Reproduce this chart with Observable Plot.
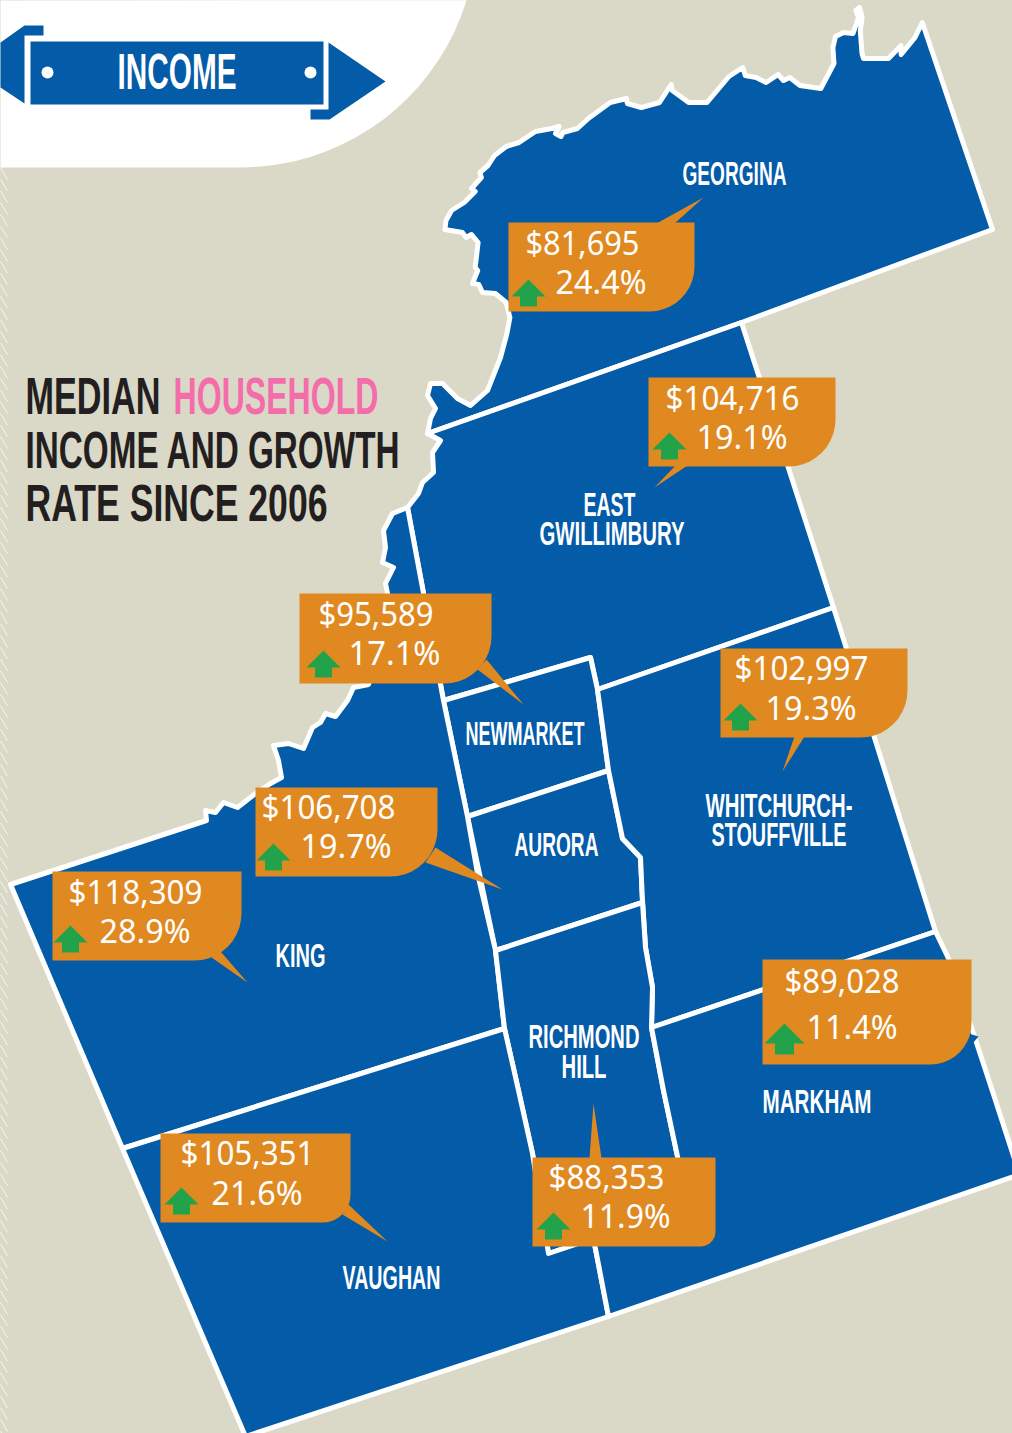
<!DOCTYPE html>
<html>
<head>
<meta charset="utf-8">
<script src="https://cdn.jsdelivr.net/npm/d3@7"></script>
<script src="https://cdn.jsdelivr.net/npm/@observablehq/plot@0.6"></script>
<style>
html,body{margin:0;padding:0;background:#DAD8C7}
svg{display:block}
</style>
</head>
<body>
<div id="chart"></div>
<script>
// ---- traced map outlines (page-pixel data space) ----
const georgina = [[921.8,22],[914.5,37],[900.6,54],[900.6,45],[888,58],[863,58],[861.5,53],[859.8,30],[861.6,17],[859,7],[855.4,10],[858,17],[852.5,33],[843,32],[835,36],[832.4,47],[833.5,63],[820.3,88],[799.5,85],[789.3,77],[783,80],[777.6,74],[765.6,82],[755.7,77],[744.8,75],[742.2,67],[728.4,76],[706.5,102],[688.2,102],[671.8,90],[670.7,84],[659,102],[640.8,107],[626.9,103],[626,98],[609.7,102],[587.8,118],[576.9,128],[562.3,132],[560.5,136],[555,133],[558.6,126],[551.3,128],[534.9,131],[518.5,142],[505.7,146],[494,155],[487.5,165],[479.4,172],[480.9,177],[471,188],[474.7,191],[463.7,202],[451,210],[445.5,220],[444.4,229],[461.9,232],[465.6,237],[471,234],[477.6,242],[474.7,267],[477.2,270],[472,283],[478.3,284],[482,292],[494.8,293],[505.7,302],[509.4,317],[506.4,333],[500,357],[487,390],[470,405],[457,398],[442,383],[430,383],[427,395],[435,408],[430,418],[427,433],[741,322],[992,229]];
const eastGwillimbury = [[427,433],[741,322],[833,607],[597,689],[590,657],[443,700],[407,507],[418,493],[422,482],[433,472],[432,452],[440,440]];
const newmarket = [[443,700],[590,657],[597,689],[608,770],[467,816]];
const aurora = [[467,816],[608,770],[622,838],[640,857],[642,902],[495,950]];
const whitchurch = [[597,689],[833,607],[935,931],[651,1027],[652,987],[645,947],[642,900],[640,857],[622,838],[608,770]];
const king = [[407,507],[392,513],[383,530],[385,547],[382,562],[393,567],[385,583],[387,593],[380,650],[368,684],[353,687],[347,700],[335,716],[325,713],[320,722],[312,727],[303,748],[288,743],[273,745],[278,760],[281,777],[270,783],[255,793],[237,807],[223,802],[215,812],[205,810],[206,820],[10,884],[122,1148],[504,1028],[495,950],[477,873],[467,816],[443,700]];
const richmondHill = [[495,950],[642,902],[645,947],[652,987],[651,1027],[663,1090],[677,1156],[685,1207],[548,1253],[532,1153],[518,1090],[504,1028]];
const vaughan = [[122,1148],[504,1028],[518,1090],[532,1153],[548,1253],[593,1238],[608,1316],[245,1436]];
const markham = [[651,1027],[935,931],[948,958],[972,1030],[995,1100],[1019,1174],[608,1316],[593,1238],[685,1207],[677,1156],[663,1090]];
const regions = {georgina, eastGwillimbury, newmarket, aurora, whitchurch, king, richmondHill, vaughan, markham};

// ---- callouts ----
const incomes = ["$81,695","$104,716","$95,589","$102,997","$106,708","$118,309","$89,028","$105,351","$88,353"];
const growth  = ["24.4%","19.1%","17.1%","19.3%","19.7%","28.9%","11.4%","21.6%","11.9%"];
const boxes = [[508,222,694,311,45],[648,377,835,466,47],[299,593,491,683,47],[720,648,907,737,47],[255,787,437,876,47],[52,871,241,960,47],[762,959,971,1064,41],[160,1133,350,1222,28],[532,1157,715,1246,15]];
const tails = [[[656,223],[703,197],[674,223]],[[675,465],[654,487],[687,465]],[[486,659],[523,704],[477,669]],[[794,736],[782,771],[804,736]],[[435,847],[502,889],[425,862]],[[220,951],[247,982],[211,957]],null,[[348,1204],[387,1241],[342,1214]],[[589,1158],[593,1103],[601,1158]]];
const incomeAt = [[525,254],[665,409],[318,625],[734,679],[261,818],[68,903],[784,992],[180,1164],[548,1188]];
const growthAt = [[555,293],[696,448],[348,664],[765,719],[300,857],[99,942],[806,1038],[211,1204],[580,1227]];
const incomeWidth = [114,134,115,134,134,134,115,134,116];
const growthWidth = [91,91,92,91,91,91,91,91,90];
const arrowAt = [[528,279],[669,432],[323,650],[740,703],[273,843],[70,925],[784,1023],[181,1187],[553,1212]];

// ---- labels ----
const placeNames = ["GEORGINA","EAST","GWILLIMBURY","NEWMARKET","AURORA","KING","WHITCHURCH-","STOUFFVILLE","RICHMOND","HILL","MARKHAM","VAUGHAN"];
const placeLeft  = [682,583,539,465,514,275,705,711,528,561,762,342];
const placeBase  = [184,515,544,744,855,966,816,845,1047,1077,1112,1288];
const placeWidth = [104,52,145,119,84,50,147,135,111,45,109,98];

const titleParts = ["MEDIAN","HOUSEHOLD","INCOME AND GROWTH","RATE SINCE 2006"];
const titleLeft = [25,173,25,25];
const titleBase = [413,413,467,520];
const titleWidth = [135,205,374,302];

// ---- decoration ----
const cornerFoot = [240,167];
const cornerRadius = 236.4;
const bannerBody = [[30,41],[323,41],[323,104],[30,104]];
const bannerLeft = [[0,42],[24,25],[43,25],[43,35],[24,35],[24,103],[0,87]];
const bannerRight = [[328,42],[385,81],[329,119],[310,119],[310,109],[328,109]];
const bannerDots = [[47,72],[310,72]];
const oceanTip = [[958,1030],[978,1036],[966,1050]];

const BLUE="#045BA8", ORANGE="#E08920", GREEN="#22A34B", BEIGE="#DAD8C7", PINK="#F46DAA", DARK="#231F20";
const HEAD="'Liberation Sans Narrow','Liberation Sans',sans-serif";
const BODY="'Noto Sans','Open Sans',sans-serif";

const rows = (poly,id) => poly.map(([x,y]) => ({x,y,id}));
const closed = (poly,id) => rows([...poly,poly[0]],id);
const poly = (data,opt) => Plot.line(data,{x:"x",y:"y",z:"id",...opt});

function calloutOutline([x0,y0,x1,y1,r]){
  const arc = d3.range(0,1.0001,1/10).map(t => {
    const a = t*Math.PI/2;
    return [x1-r+r*Math.cos(a), y1-r+r*Math.sin(a)];
  });
  return [[x0,y0],[x1,y0],...arc,[x0,y1]];
}
function arrowOutline([cx,top],i){
  const big = i===6;
  const w = big?20:17, s = big?9.5:8.5, h1 = big?20:17, h2 = big?31:27;
  return [[cx,top],[cx+w,top+h1],[cx+s,top+h1],[cx+s,top+h2],[cx-s,top+h2],[cx-s,top+h1],[cx-w,top+h1]];
}
// white rounded corner of the page header: a circular sweep from the top edge to the foot
const cornerArc = d3.range(73,-0.01,-4).map(deg => {
  const a = deg*Math.PI/180;
  return [cornerFoot[0]+cornerRadius*Math.sin(a), cornerFoot[1]-cornerRadius+cornerRadius*Math.cos(a)];
});
const whiteCorner = [[0,0],...cornerArc,cornerFoot,[0,167]];

const regionRows = Object.entries(regions).flatMap(([k,p]) => closed(p,k));
const boxRows = boxes.flatMap((b,i) => rows(calloutOutline(b),"b"+i));
const tailRows = tails.flatMap((t,i) => t ? rows(t,"t"+i) : []);
const arrowRows = arrowAt.flatMap((a,i) => rows(arrowOutline(a,i),"a"+i));

// left-edge hatch (decorative)
const hatch = d3.range(167,1440,11.7).map(y => ({x1:0,y1:y,x2:7,y2:y+12}));

const widths = new Map();
const reg = (names,w) => names.forEach((n,i) => widths.set(n,w[i]));
reg(placeNames,placeWidth); reg(titleParts,titleWidth); reg(incomes,incomeWidth); reg(growth,growthWidth);
widths.set("INCOME",119);

const texts = (names,left,base,opt) => Plot.text(names,{x:(d,i)=>left[i],y:(d,i)=>base[i],text:d=>d,textAnchor:"start",lineAnchor:"bottom",...opt});

const chart = Plot.plot({
  width:1012,height:1433,margin:0,
  x:{domain:[0,1012],range:[0,1012],axis:null},
  y:{domain:[0,1433],range:[0,1433],axis:null},
  style:{background:BEIGE},
  marks:[
    poly(rows(whiteCorner,"w"),{fill:"white",stroke:"none"}),
    Plot.link(hatch,{x1:"x1",y1:"y1",x2:"x2",y2:"y2",stroke:"white",strokeWidth:1,strokeOpacity:0.75}),
    poly(rows(bannerBody,"b").concat(rows(bannerLeft,"l"),rows(bannerRight,"r")),{fill:BLUE,stroke:"none"}),
    Plot.dot(bannerDots,{x:d=>d[0],y:d=>d[1],r:6,fill:"white",stroke:"none"}),
    Plot.text(["INCOME"],{x:[117],y:[88],text:d=>d,textAnchor:"start",lineAnchor:"bottom",fill:"white",fontFamily:HEAD,fontSize:50,fontWeight:700}),
    poly(regionRows,{fill:BLUE,stroke:"white",strokeWidth:5,strokeLinejoin:"round",strokeLinecap:"round"}),
    poly(rows(oceanTip,"o"),{fill:BLUE,stroke:"none"}),
    poly(tailRows,{fill:ORANGE,stroke:"none"}),
    poly(boxRows,{fill:ORANGE,stroke:"none"}),
    poly(arrowRows,{fill:GREEN,stroke:"none"}),
    texts(incomes,incomeAt.map(d=>d[0]),incomeAt.map(d=>d[1]),{fill:"white",fontFamily:BODY,fontSize:32,fontWeight:400}),
    texts(growth,growthAt.map(d=>d[0]),growthAt.map(d=>d[1]),{fill:"white",fontFamily:BODY,fontSize:32,fontWeight:400}),
    texts(placeNames,placeLeft,placeBase,{fill:"white",fontFamily:HEAD,fontSize:34,fontWeight:700}),
    texts(titleParts,titleLeft,titleBase,{fill:(d,i)=>i===1?PINK:DARK,fontFamily:HEAD,fontSize:51,fontWeight:700})
  ]
});
// fit each condensed label to its measured width
chart.querySelectorAll("text").forEach(t => {
  const w = widths.get(t.textContent);
  if (w) { t.setAttribute("textLength",w); t.setAttribute("lengthAdjust","spacingAndGlyphs"); }
});
document.getElementById("chart").append(chart);
</script>
</body>
</html>
